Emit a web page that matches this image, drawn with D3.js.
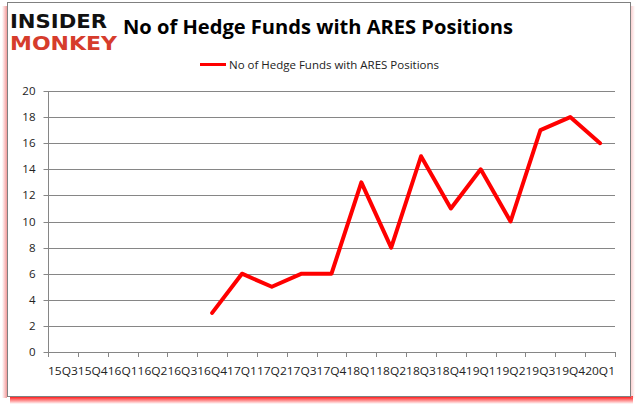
<!DOCTYPE html>
<html><head><meta charset="utf-8">
<script src="https://cdn.jsdelivr.net/npm/d3@7"></script>
<style>body{margin:0;background:#fff}svg{display:block}</style>
</head><body>
<script>
const categories = ["15Q3","15Q4","16Q1","16Q2","16Q3","16Q4","17Q1","17Q2","17Q3","17Q4","18Q1","18Q2","18Q3","18Q4","19Q1","19Q2","19Q3","19Q4","20Q1"];
const values = [null,null,null,null,null,3,6,5,6,6,13,8,15,11,14,10,17,18,16];
const yTicks = [0,2,4,6,8,10,12,14,16,18,20];
const seriesName = "No of Hedge Funds with ARES Positions";
const titleText = "No of Hedge Funds with ARES Positions";

const W = 637, H = 408;
const svg = d3.select("body").append("svg").attr("width", W).attr("height", H);
const defs = svg.append("defs");
const gB = defs.append("linearGradient").attr("id","shB").attr("x1",0).attr("y1",0).attr("x2",0).attr("y2",1);
gB.append("stop").attr("offset","0%").attr("stop-color","#ff0000").attr("stop-opacity",1);
gB.append("stop").attr("offset","100%").attr("stop-color","#ff0000").attr("stop-opacity",0);
const gL = defs.append("linearGradient").attr("id","shL").attr("x1",1).attr("y1",0).attr("x2",0).attr("y2",0);
gL.append("stop").attr("offset","0%").attr("stop-color","#f08080").attr("stop-opacity",0.8);
gL.append("stop").attr("offset","100%").attr("stop-color","#f08080").attr("stop-opacity",0);
const gR = defs.append("linearGradient").attr("id","shR").attr("x1",0).attr("y1",0).attr("x2",1).attr("y2",0);
gR.append("stop").attr("offset","0%").attr("stop-color","#f4a0a0").attr("stop-opacity",0.5);
gR.append("stop").attr("offset","100%").attr("stop-color","#f4a0a0").attr("stop-opacity",0);

// shadows
svg.append("rect").attr("x",10).attr("y",396).attr("width",623).attr("height",8).attr("fill","url(#shB)");
svg.append("rect").attr("x",2).attr("y",6).attr("width",5).attr("height",392).attr("fill","url(#shL)");
svg.append("rect").attr("x",631).attr("y",6).attr("width",4).attr("height",392).attr("fill","url(#shR)");
// frame
svg.append("rect").attr("x",7.5).attr("y",2.5).attr("width",623).attr("height",394).attr("fill","#fff").attr("stroke","#808080").attr("stroke-width",1);

// logo
svg.append("text").attr("x",10).attr("y",28).attr("font-family","DejaVu Sans").attr("font-weight","bold")
  .attr("font-size",19.5).attr("textLength",97).attr("lengthAdjust","spacingAndGlyphs").attr("fill","#111").text("INSIDER");
svg.append("text").attr("x",10).attr("y",50).attr("font-family","DejaVu Sans").attr("font-weight","bold")
  .attr("font-size",19.5).attr("textLength",107).attr("lengthAdjust","spacingAndGlyphs").attr("fill","#d63c2c").text("MONKEY");

// title
svg.append("text").attr("x",123).attr("y",34).attr("font-family","Open Sans").attr("font-weight","bold")
  .attr("font-size",20).attr("textLength",390).attr("lengthAdjust","spacingAndGlyphs").attr("fill","#000").text(titleText);

const x0 = 48, x1 = 615, y0 = 352, y1 = 91;
const x = d3.scaleBand().domain(categories).range([x0, x1]);
const y = d3.scaleLinear().domain([0,20]).range([y0, y1]);

// grid
svg.append("g").selectAll("line").data(yTicks.filter(d=>d>0)).join("line")
  .attr("x1",x0).attr("x2",x1).attr("y1",d=>Math.round(y(d))+0.5).attr("y2",d=>Math.round(y(d))+0.5)
  .attr("stroke","#868686").attr("stroke-width",1);

// y axis
const ya = svg.append("g").attr("transform",`translate(${x0+0.5},0.5)`)
  .call(d3.axisLeft(y).tickValues(yTicks).tickSize(5).tickPadding(8));
ya.select(".domain").attr("stroke","#868686").attr("d",`M-0,${y1}V${y0}`);
ya.selectAll(".tick line").attr("stroke","#868686");
ya.selectAll(".tick").attr("transform",d=>`translate(0,${Math.round(y(d))})`);
ya.selectAll("text").attr("font-family","Open Sans").attr("font-size",11.5).attr("fill","#222");

// x axis
const xa = svg.append("g").attr("transform",`translate(0,${y0+0.5})`)
  .call(d3.axisBottom(x).tickSize(0).tickPadding(14));
xa.select(".domain").attr("stroke","#868686").attr("d",`M${x0},0H${x1}`);
xa.selectAll("text").attr("font-family","Open Sans").attr("font-size",11.5).attr("fill","#222")
  .attr("textLength", x.bandwidth()).attr("lengthAdjust","spacingAndGlyphs");
const bounds = categories.map(c=>x(c)).concat([x1]);
svg.append("g").selectAll("line").data(bounds).join("line")
  .attr("x1",d=>Math.round(d)+0.5).attr("x2",d=>Math.round(d)+0.5).attr("y1",y0).attr("y2",y0+5)
  .attr("stroke","#868686");

// line
const pts = categories.map((c,i)=>({c, v: values[i]}));
const line = d3.line().defined(d=>d.v!=null).x(d=>x(d.c)+x.bandwidth()/2).y(d=>y(d.v));
svg.append("path").datum(pts).attr("d",line).attr("fill","none").attr("stroke","#ff0000")
  .attr("stroke-width",4).attr("stroke-linejoin","round").attr("stroke-linecap","round");

// legend
svg.append("line").attr("x1",200).attr("x2",226).attr("y1",64.5).attr("y2",64.5).attr("stroke","#ff0000").attr("stroke-width",3);
svg.append("text").attr("x",229).attr("y",68.5).attr("font-family","Open Sans").attr("font-size",11.5)
  .attr("textLength",210).attr("lengthAdjust","spacingAndGlyphs").attr("fill","#222").text(seriesName);
</script>
</body></html>
